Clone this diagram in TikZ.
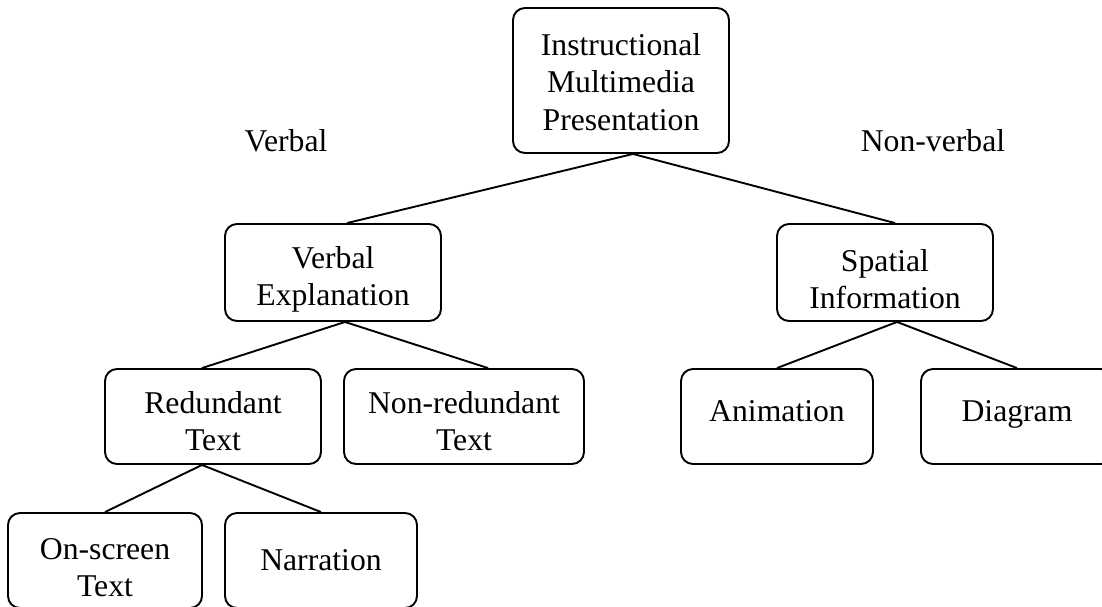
\documentclass[tikz,border=0pt]{standalone}
\usepackage{fontspec}
\setmainfont{Liberation Serif}
\tikzset{
    box/.style={draw, line width=1.9pt, rounded corners=12pt, align=center, inner sep=0pt, minimum height=95pt},
    single/.style={text depth=12pt},
}
\begin{document}
\begin{tikzpicture}[x=1pt,y=-1pt,line width=1.9pt,font=\fontsize{31.7}{37.5}\selectfont]
            \useasboundingbox (0,0) rectangle (1102,606);
            \node[box, text height=100pt, minimum width=216pt, minimum height=145pt] (imp) at (621,80.5) {Instructional\\Multimedia\\Presentation};
            \node (verbal) at (286,141) {Verbal};
            \node (nonverbal) at (933,141) {Non-verbal};
            \node[box, text height=73pt, minimum width=216pt, minimum height=97pt] (verbexp) at (333,272.5) {Verbal\\Explanation};
            \node[box, text height=73pt, minimum width=216pt, minimum height=97pt] (spatinf) at (885,272.5) {Spatial\\Information};
            \node[box, text height=69pt, minimum width=216pt] (redtext) at (213,416.5) {Redundant\\Text};
            \node[box, text height=69pt, minimum width=240pt] (nonred) at (464,416.5) {Non-redundant\\Text};
            \node[box, single, minimum width=192pt] (anim) at (777,416.5) {Animation};
            \node[box, single, minimum width=192pt] (diag) at (1017,416.5) {Diagram};
            \node[box, text height=73pt, minimum width=194pt] (onscreen) at (105,560.5) {On-screen\\Text};
            \node[box, minimum width=192pt] (narr) at (321,560.5) {Narration};
            \draw ([xshift=12pt]imp.south) -- ([xshift=14pt]verbexp.north);
            \draw ([xshift=12pt]imp.south) -- ([xshift=10pt]spatinf.north);
            \draw ([xshift=12pt]verbexp.south) -- ([xshift=-11pt]redtext.north);
            \draw ([xshift=12pt]verbexp.south) -- ([xshift=24pt]nonred.north);
            \draw ([xshift=12pt]spatinf.south) -- (anim.north);
            \draw ([xshift=12pt]spatinf.south) -- (diag.north);
            \draw ([xshift=-11pt]redtext.south) -- (onscreen.north);
            \draw ([xshift=-11pt]redtext.south) -- (narr.north);
        \end{tikzpicture}
\end{document}
